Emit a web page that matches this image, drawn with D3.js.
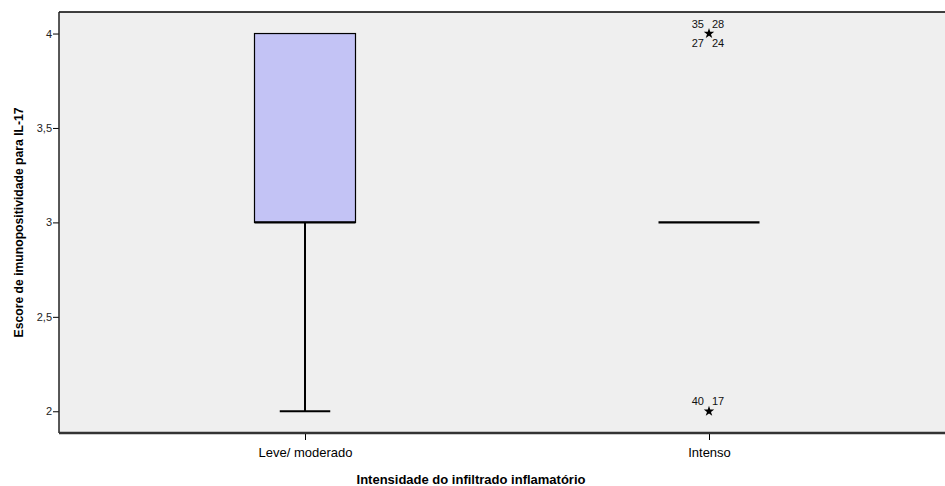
<!DOCTYPE html>
<html>
<head>
<meta charset="utf-8">
<script src="https://cdn.jsdelivr.net/npm/d3@7"></script>
<style>
  body { margin: 0; background: #fff; }
  svg { display: block; font-family: "Liberation Sans", Arial, sans-serif; }
</style>
</head>
<body>
<div id="chart"></div>
<script>
// box plot data
const categories = ["Leve/ moderado", "Intenso"];
const whiskerLow = [2, 3];
const q1 = [3, 3];
const median = [3, 3];
const q3 = [4, 3];
const whiskerHigh = [4, 3];
const outliers = [
  { cat: "Intenso", value: 4, left: ["35", "27"], right: ["28", "24"] },
  { cat: "Intenso", value: 2, left: ["40"], right: ["17"] }
];
const yTicks = [2, 2.5, 3, 3.5, 4];

const width = 945, height = 486;
const margin = { top: 12, right: -2, bottom: 53, left: 59 };

const svg = d3.select("#chart").append("svg")
  .attr("width", width)
  .attr("height", height);

const plotW = width - margin.left - margin.right;
const plotH = height - margin.top - margin.bottom;

const g = svg.append("g")
  .attr("transform", `translate(${margin.left}, ${margin.top})`);

const x = d3.scalePoint()
  .domain(categories)
  .range([246, 650]);

const y = d3.scaleLinear()
  .domain([1.885, 4.114])
  .range([plotH, 0]);

// background
g.append("rect")
  .attr("width", plotW)
  .attr("height", plotH)
  .attr("fill", "#efefef");

const fmt = d => String(d).replace(".", ",");

// y axis
const yAxis = g.append("g")
  .call(d3.axisLeft(y).tickValues(yTicks).tickSize(6).tickPadding(1).tickFormat(fmt));
yAxis.select(".domain").remove();
yAxis.selectAll("line").attr("stroke", "#000");
yAxis.selectAll("text").attr("font-size", 11).attr("fill", "#222")
  .attr("font-family", "Liberation Sans, Arial, sans-serif");

// x axis
const xAxis = g.append("g")
  .attr("transform", `translate(0, ${plotH})`)
  .call(d3.axisBottom(x).tickSize(7).tickPadding(8));
xAxis.select(".domain").remove();
xAxis.selectAll("line").attr("stroke", "#000");
xAxis.selectAll("text").attr("font-size", 13).attr("fill", "#000")
  .attr("font-family", "Liberation Sans, Arial, sans-serif");

// frame
g.append("line").attr("x1", 0).attr("x2", plotW).attr("y1", 0).attr("y2", 0)
  .attr("stroke", "#000").attr("stroke-width", 1.5);
g.append("line").attr("x1", 0).attr("x2", 0).attr("y1", 0).attr("y2", plotH)
  .attr("stroke", "#222").attr("stroke-width", 1.5);
g.append("line").attr("x1", 0).attr("x2", plotW).attr("y1", plotH).attr("y2", plotH)
  .attr("stroke", "#333").attr("stroke-width", 2.5);

const boxW = 101;

categories.forEach((c, i) => {
  const cx = x(c);
  // whiskers
  if (whiskerLow[i] < q1[i]) {
    g.append("line").attr("x1", cx).attr("x2", cx)
      .attr("y1", y(q1[i])).attr("y2", y(whiskerLow[i]))
      .attr("stroke", "#000").attr("stroke-width", 2);
    g.append("line").attr("x1", cx - boxW / 4).attr("x2", cx + boxW / 4)
      .attr("y1", y(whiskerLow[i])).attr("y2", y(whiskerLow[i]))
      .attr("stroke", "#000").attr("stroke-width", 2);
  }
  if (whiskerHigh[i] > q3[i]) {
    g.append("line").attr("x1", cx).attr("x2", cx)
      .attr("y1", y(q3[i])).attr("y2", y(whiskerHigh[i]))
      .attr("stroke", "#000").attr("stroke-width", 2);
    g.append("line").attr("x1", cx - boxW / 4).attr("x2", cx + boxW / 4)
      .attr("y1", y(whiskerHigh[i])).attr("y2", y(whiskerHigh[i]))
      .attr("stroke", "#000").attr("stroke-width", 2);
  }
  // box
  if (q3[i] > q1[i]) {
    g.append("rect")
      .attr("x", cx - boxW / 2)
      .attr("y", y(q3[i]))
      .attr("width", boxW)
      .attr("height", y(q1[i]) - y(q3[i]))
      .attr("fill", "#c3c3f5")
      .attr("stroke", "#000")
      .attr("stroke-width", 1.2);
  }
  // median
  g.append("line")
    .attr("x1", cx - boxW / 2).attr("x2", cx + boxW / 2)
    .attr("y1", y(median[i])).attr("y2", y(median[i]))
    .attr("stroke", "#000").attr("stroke-width", 2.2);
});

// extreme values
const star = d3.symbol().type(d3.symbolStar).size(34);
outliers.forEach(o => {
  const cx = x(o.cat), cy = y(o.value);
  g.append("path")
    .attr("transform", `translate(${cx}, ${cy})`)
    .attr("d", star())
    .attr("fill", "#000");
  o.left.forEach((t, k) => {
    g.append("text")
      .attr("x", cx - 5).attr("y", cy + (k === 0 ? -6 : 13))
      .attr("text-anchor", "end").attr("font-size", 11).attr("fill", "#111")
      .text(t);
  });
  o.right.forEach((t, k) => {
    g.append("text")
      .attr("x", cx + 3).attr("y", cy + (k === 0 ? -6 : 13))
      .attr("text-anchor", "start").attr("font-size", 11).attr("fill", "#111")
      .text(t);
  });
});

// axis titles
svg.append("text")
  .attr("x", 471).attr("y", 484)
  .attr("text-anchor", "middle")
  .attr("font-size", 13).attr("font-weight", "bold")
  .text("Intensidade do infiltrado inflamatório");

svg.append("text")
  .attr("transform", `translate(23, ${margin.top + y(3)}) rotate(-90)`)
  .attr("text-anchor", "middle")
  .attr("font-size", 13).attr("font-weight", "bold")
  .attr("textLength", 230).attr("lengthAdjust", "spacingAndGlyphs")
  .text("Escore de imunopositividade para IL-17");
</script>
</body>
</html>
